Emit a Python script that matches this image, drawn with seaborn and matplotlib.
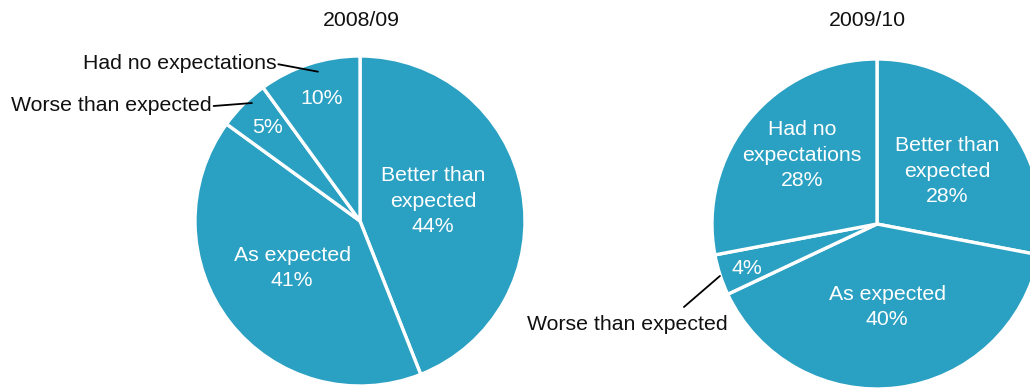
import matplotlib
matplotlib.use("Agg")
import matplotlib.pyplot as plt
import seaborn as sns

sns.set_theme(style="white")
plt.rcParams['font.family'] = ['Liberation Sans', 'DejaVu Sans']

# ---- data ----
categories = ["Better than expected", "As expected", "Worse than expected", "Had no expectations"]
values_0809 = [44, 41, 5, 10]
values_0910 = [28, 40, 4, 28]
titles = ["2008/09", "2009/10"]
labels_0809 = ["Better than\nexpected\n44%", "As expected\n41%", "5%", "10%"]
labels_0910 = ["Better than\nexpected\n28%", "As expected\n40%", "4%", "Had no\nexpectations\n28%"]

COLOR = "#2aa0c2"
FS = 15.3
LS = 1.45

fig = plt.figure(figsize=(10.30, 3.89), dpi=100)
W, H = 1030, 389
R = 165  # pie radius in pixels
LIM = 1.25


def make_axes(cx, cy):
    half = LIM * R
    return fig.add_axes([(cx - half) / W, (H - cy - half) / H, 2 * half / W, 2 * half / H])


def draw_pie(ax, values):
    wedges, _ = ax.pie(values, startangle=90, counterclock=False, colors=[COLOR] * len(values),
                       wedgeprops=dict(edgecolor="white", linewidth=2.4))
    ax.set_xlim(-LIM, LIM)
    ax.set_ylim(-LIM, LIM)
    ax.set_aspect("equal")
    ax.axis("off")
    return wedges


# Left pie
ax1 = make_axes(360, 221)
draw_pie(ax1, values_0809)
inner1 = [(0.442, 0.121), (-0.412, -0.285), (-0.558, 0.564), (-0.230, 0.745)]
for lab, (x, y) in zip(labels_0809, inner1):
    ax1.text(x, y, lab, color="white", fontsize=FS, ha="center", va="center", linespacing=LS)
# outside labels with leaders
ax1.text(-0.505, 0.952, categories[3], color="#111111", fontsize=FS, ha="right", va="center")
ax1.plot([-0.495, -0.255], [0.950, 0.905], color="black", lw=1.3)
ax1.text(-0.897, 0.697, categories[2], color="#111111", fontsize=FS, ha="right", va="center")
ax1.plot([-0.887, -0.655], [0.697, 0.715], color="black", lw=1.3)

# Right pie
ax2 = make_axes(877, 224)
draw_pie(ax2, values_0910)
inner2 = [(0.424, 0.321), (0.061, -0.503), (-0.788, -0.267), (-0.455, 0.418)]
for lab, (x, y) in zip(labels_0910, inner2):
    ax2.text(x, y, lab, color="white", fontsize=FS, ha="center", va="center", linespacing=LS)
ax2.text(-1.515, -0.61, categories[2], color="#111111", fontsize=FS, ha="center", va="center")
ax2.plot([-1.170, -0.952], [-0.503, -0.315], color="black", lw=1.3)
for a in (ax1, ax2):
    for ln in a.lines:
        ln.set_clip_on(False)

# Titles
fig.text(361 / W, 1 - 20 / H, titles[0], fontsize=FS, ha="center", va="center", color="#111111")
fig.text(867 / W, 1 - 20 / H, titles[1], fontsize=FS, ha="center", va="center", color="#111111")

fig.savefig("out.png", dpi=100, facecolor="white")
